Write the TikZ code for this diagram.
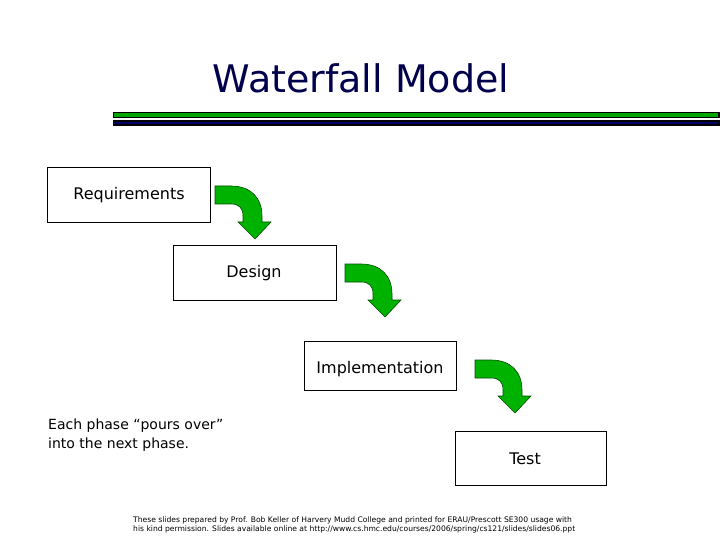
\documentclass[tikz,border=0pt]{standalone}
\usepackage{fontspec}
\setmainfont{DejaVu Sans}
\begin{document}
\begin{tikzpicture}[x=1pt,y=-1pt,
  phase/.style={draw,line width=1.2pt,fill=white,inner sep=0pt,anchor=north west},
  lbl/.style={font=\fontsize{16}{18}\selectfont},
  garrow/.style={fill=green!70!black,draw=black!70!green,line width=0.6pt}]
\useasboundingbox (0,0) rectangle (720,540);
\node[text=blue!30!black,font=\fontsize{38}{44}\selectfont] (title) at (361,78) {Waterfall Model};
\fill[black] (113,112) rectangle (720,118.5);
\fill[green!65!black] (114,113.5) rectangle (718,117);
\fill[black] (113,120.5) rectangle (720,126);
\fill[blue!40!black] (114,122) rectangle (718,124.5);
\node[phase,minimum width=163,minimum height=55] (req) at (47,167) {};
\node[lbl] (reqt) at (129,195) {Requirements};
\node[phase,minimum width=163,minimum height=55] (des) at (173,245) {};
\node[lbl] (dest) at (254,273) {Design};
\node[phase,minimum width=152,minimum height=49] (imp) at (304,341) {};
\node[lbl] (impt) at (380,369) {Implementation};
\node[phase,minimum width=151,minimum height=54] (tst) at (455,431) {};
\node[lbl] (tstt) at (525,459) {Test};
\foreach \n/\px/\py in {a1/215/186, a2/345/264, a3/475/360}{
  \draw[garrow,shift={(\px,\py)}] (0,0) -- (16,0) .. controls (36,0) and (47,12) .. (47,30) -- (47,36) -- (56,36) -- (40,53) -- (23,36) -- (28,36) -- (28,30) .. controls (28,22) and (24,18) .. (16,18) -- (0,18) -- cycle;
}
\node[anchor=north west,align=left,font=\fontsize{14}{19}\selectfont,inner sep=0pt] (note) at (48,419) {Each phase “pours over”\\into the next phase.};
\node[anchor=north west,align=left,font=\fontsize{7.6}{9}\selectfont,inner sep=0pt] (foot) at (133,517) {These slides prepared by Prof. Bob Keller of Harvery Mudd College and printed for ERAU/Prescott SE300 usage with\\his kind permission. Slides available online at http://www.cs.hmc.edu/courses/2006/spring/cs121/slides/slides06.ppt};
\end{tikzpicture}
\end{document}
